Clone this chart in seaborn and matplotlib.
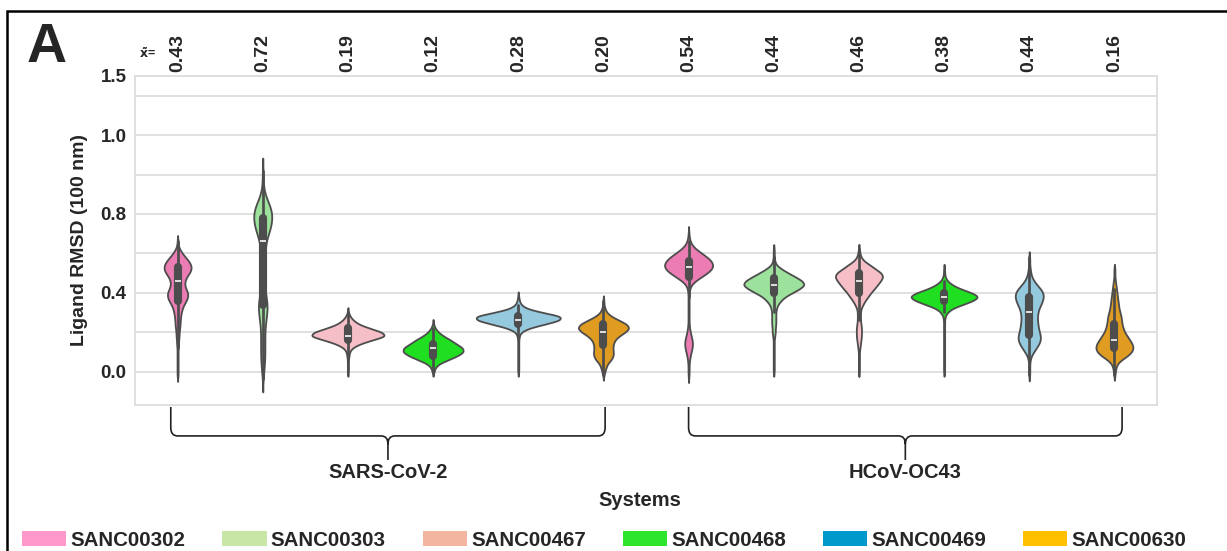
import numpy as np
import pandas as pd
import matplotlib
matplotlib.use("Agg")
import matplotlib.pyplot as plt
import matplotlib.transforms as mtransforms
from matplotlib.patches import Patch, Rectangle, PathPatch
from matplotlib.path import Path
import seaborn as sns

compounds = ["SANC00302", "SANC00303", "SANC00467", "SANC00468", "SANC00469", "SANC00630"]
systems = ["SARS-CoV-2", "HCoV-OC43"]
median_labels = ["0.43", "0.72", "0.19", "0.12", "0.28", "0.20",
                 "0.54", "0.44", "0.46", "0.38", "0.44", "0.16"]
violin_colors = ["hotpink", "lightgreen", "lightpink", "lime", "skyblue", "orange"]
legend_colors = ["#ff99cc", "#c8e6a6", "#f2b5a0", "#2ee52e", "#0099cc", "#ffc000"]

# ligand RMSD histograms: counts per 0.02 bin from a start value
# (counts are the violin widths in pixels at each level)
step = 0.02
sars_302 = (-0.02, [1, 1, 1, 1, 1, 1, 1, 1, 2, 2, 3, 3, 4, 5, 5, 6, 7, 9, 12, 17, 20, 20, 16, 13,
                    14, 17, 23, 27, 26, 22, 15, 9, 4, 1, 1])
sars_303 = (-0.04, [1, 1, 2, 3, 3, 4, 4, 4, 4, 4, 4, 4, 4, 4,
                    5, 6, 7, 8, 9, 9, 8, 6, 5,
                    4, 4, 4, 4, 4, 4, 4, 4, 4, 4,
                    5, 5, 6, 8, 11, 14, 16, 17, 18, 18, 17, 14, 10, 7, 4,
                    2, 1, 1, 1, 1, 1])
sars_467 = (0.00, [1, 1, 1, 1, 2, 3, 8, 22, 45, 72, 64, 40, 20, 10, 4, 1])
sars_468 = (0.00, [2, 4, 12, 30, 48, 60, 58, 45, 34, 20, 10, 4, 1])
sars_469 = (0.00, [1, 1, 1, 1, 1, 1, 1, 1, 1, 2, 5, 20, 50, 80, 84, 45, 15, 5, 2, 1])
sars_630 = (-0.02, [1, 3, 5, 8, 15, 19, 19, 18, 19, 22, 30, 42, 50, 45, 30, 15, 6, 3, 1, 1])
oc43_302 = (-0.02, [1, 1, 1, 1, 2, 3, 5, 7, 8, 7, 5, 3, 2, 1,
                    1, 1, 1, 1, 1, 1, 1, 1,
                    2, 4, 12, 24, 36, 45, 48, 44, 36, 25, 14, 6, 3, 1, 1])
oc43_303 = (0.00, [1, 1, 1, 1, 1, 1, 1, 1, 1, 2, 3, 3, 4, 4, 4, 4, 5,
                   8, 14, 22, 36, 50, 60, 55, 42, 28, 15, 5, 2, 1, 1, 1])
oc43_467 = (0.00, [1, 1, 1, 1, 1, 1, 2, 3, 4, 5, 5, 5, 4, 3, 3, 3,
                   4, 8, 12, 18, 23, 30, 36, 42, 47, 44, 32, 22, 10, 4, 2, 1])
oc43_468 = (0.00, [1, 1, 1, 1, 1, 1, 1, 1, 1, 1, 1, 1, 1, 1,
                   2, 6, 15, 35, 55, 66, 52, 30, 15, 6, 2, 1, 1])
oc43_469 = (-0.02, [1, 1, 1, 1, 2, 4, 9, 14, 19, 22, 22, 20, 18, 17, 16, 16, 17, 19, 23, 26,
                    28, 27, 22, 15, 9, 5, 3, 2, 1, 1, 1])
oc43_630 = (-0.02, [1, 2, 3, 6, 14, 26, 34, 37, 35, 30, 25, 20, 17, 15, 14, 13, 11, 9, 8, 7,
                    6, 5, 4, 3, 2, 1, 1, 1])

hists = {"SARS-CoV-2": [sars_302, sars_303, sars_467, sars_468, sars_469, sars_630],
         "HCoV-OC43": [oc43_302, oc43_303, oc43_467, oc43_468, oc43_469, oc43_630]}

rows = []
order = []
peaks = []
for system in systems:
    for comp, (start, counts) in zip(compounds, hists[system]):
        key = system + " " + comp
        order.append(key)
        peaks.append(max(counts))
        levels = start + step * np.arange(len(counts))
        for v in np.repeat(levels, counts):
            rows.append((key, comp, v))
df = pd.DataFrame(rows, columns=["group", "compound", "rmsd"])


def bandwidth(kde):
    sd = kde.dataset.std(ddof=1)
    return max(0.012, 0.12 * sd) / sd


sns.set_style("whitegrid")
plt.rcParams["font.family"] = ["Liberation Sans", "DejaVu Sans"]
plt.rcParams["font.weight"] = "bold"
plt.rcParams["axes.labelweight"] = "bold"

fig = plt.figure(figsize=(12.27, 5.51), dpi=100)
ax_px = 1022
ax = fig.add_axes([135 / 1227, 1 - 405 / 551, ax_px / 1227, 329 / 551])
px_per_cat = ax_px / len(order)

for key, peak in zip(order, peaks):
    sns.violinplot(data=df[df["group"] == key], x="group", y="rmsd", hue="compound",
                   order=order, hue_order=compounds, palette=violin_colors, dodge=False,
                   legend=False, bw_method=bandwidth, density_norm="width",
                   width=peak / px_per_cat, linewidth=1.3, ax=ax)

ax.set_xlim(-0.5, 11.5)
ax.set_ylim(-0.17, 1.5)
ax.set_yticks([0.0, 0.4, 0.8, 1.2, 1.5])
ax.set_yticklabels(["0.0", "0.4", "0.8", "1.0", "1.5"])
ax.set_yticks([0.2, 0.6, 1.0, 1.4], minor=True)
ax.grid(True, which="both", axis="y", color="#dddddd", linewidth=1.3)
ax.grid(False, axis="x")
ax.tick_params(axis="y", which="both", length=0, labelsize=13.5, pad=6)
for s in ax.spines.values():
    s.set_color("#dddddd")
    s.set_linewidth(1.3)

# medians written along the top
ax.set_xticks(range(len(order)))
ax.set_xticklabels(median_labels, rotation=90)
ax.tick_params(axis="x", bottom=False, labelbottom=False, top=False, labeltop=True,
               labelsize=14, pad=3, length=0)

ax.set_ylabel("Ligand RMSD (100 nm)", fontsize=14, labelpad=9)
ax.set_xlabel("Systems", fontsize=14.5)
ax.xaxis.set_label_position("bottom")
ax.xaxis.set_label_coords(0.494, -0.262)

# group braces under the axes
trans = mtransforms.blended_transform_factory(ax.transData, ax.transAxes)


def brace(x0, x1, label):
    xm = (x0 + x1) / 2
    yt, yb, ytip = -0.006, -0.094, -0.167
    rx, ry = 0.08, 0.025
    verts = [(x0, yt), (x0, yb + ry), (x0, yb), (x0 + rx, yb), (xm - rx, yb), (xm, yb),
             (xm, yb - ry), (xm, ytip),
             (x1, yt), (x1, yb + ry), (x1, yb), (x1 - rx, yb), (xm + rx, yb), (xm, yb),
             (xm, yb - ry)]
    codes = [Path.MOVETO, Path.LINETO, Path.CURVE3, Path.CURVE3, Path.LINETO, Path.CURVE3,
             Path.CURVE3, Path.LINETO,
             Path.MOVETO, Path.LINETO, Path.CURVE3, Path.CURVE3, Path.LINETO, Path.CURVE3,
             Path.CURVE3]
    ax.add_patch(PathPatch(Path(verts, codes), transform=trans, facecolor="none",
                           edgecolor="#222222", linewidth=1.2, clip_on=False))
    ax.text(xm, -0.204, label, transform=trans, ha="center", va="center", fontsize=14.5)


brace(-0.08, 5.02, systems[0])
brace(6.0, 11.09, systems[1])

handles = [Patch(facecolor=c, edgecolor="none", label=n) for c, n in zip(legend_colors, compounds)]
fig.legend(handles=handles, loc="center left", bbox_to_anchor=(22 / 1227, 1 - 540 / 551),
           ncol=6, frameon=False, prop={"weight": "bold", "size": 14.8},
           handlelength=2.15, handleheight=0.75, handletextpad=0.2, columnspacing=1.8,
           borderpad=0, borderaxespad=0)

fig.text(27 / 1227, 1 - 62 / 551, "A", fontsize=40, fontweight="bold", ha="left", va="baseline")
fig.text(139 / 1227, 1 - 58 / 551, r"$\mathbf{\tilde{x}}$=", fontsize=9, fontweight="bold",
         ha="left", va="baseline")
fig.patches.append(Rectangle((7 / 1227, -0.1), 1.2, 1.1 - 11 / 551, transform=fig.transFigure,
                             facecolor="none", edgecolor="black", linewidth=1.8))

fig.savefig("out.png", dpi=100)
